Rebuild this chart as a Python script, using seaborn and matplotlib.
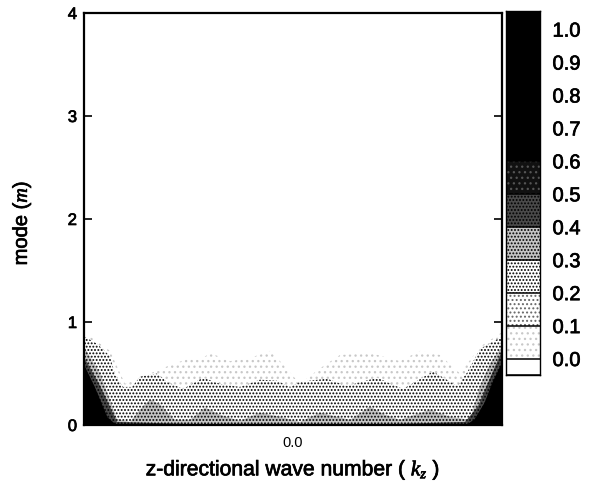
import matplotlib
matplotlib.use("Agg")
import matplotlib.pyplot as plt
import matplotlib.patheffects as pe
import pandas as pd
import seaborn as sns

# Contour outlines: (kz, m) per level
kz_01 = [-1, -.876, -.804, -.589, -.493, -.445, -.397, -.301, -.206, -.11, -.062, .033, .129, .225, .368, .512, .608, .703, .799, .895, 1]
m_01 = [.90, .72, .40, .58, .65, .63, .70, .62, .65, .72, .62, .40, .55, .68, .70, .62, .72, .68, .50, .76, .90]

kz_02 = [-1, -.938, -.876, -.85, -.813, -.77, -.732, -.651, -.603, -.526, -.431, -.349, -.254, -.158, -.077, -.014, .033, .163, .258, .402, .526, .67, .785, .833, .895, 1]
m_02 = [.86, .79, .67, .48, .37, .37, .47, .50, .42, .35, .46, .40, .37, .44, .43, .37, .42, .45, .38, .46, .35, .52, .38, .51, .74, .86]

kz_03 = [-1, -.923, -.842, -.78, -.732, -.684, -.636, -.565, -.493, -.421, -.349, -.254, -.158, -.062, .033, .129, .273, .368, .44, .512, .656, .751, .847, .895, .943, 1]
m_03 = [.76, .50, .06, .03, .15, .25, .20, .05, .05, .17, .10, .04, .12, .08, .03, .12, .05, .18, .10, .05, .15, .08, .05, .38, .60, .76]

kz_04 = [-1, -.923, -.842, -.5, .5, .823, .885, .952, 1]
m_04 = [.66, .38, .03, .01, .01, .03, .18, .50, .72]

kz_05 = [-1, -.952, -.89, -.85, .83, .866, .914, .952, 1]
m_05 = [.58, .38, .08, .01, .01, .06, .22, .42, .62]

# Legend levels and tick labels
cbar_levels = [-.05, 0, .1, .2, .3, .4, .5, .6, 1.055]
cbar_ticks = [0, .1, .2, .3, .4, .5, .6, .7, .8, .9, 1.0]
cbar_labels = ["0.0", "0.1", "0.2", "0.3", "0.4", "0.5", "0.6", "0.7", "0.8", "0.9", "1.0"]

# Style per band, light to dark: face, hatch, hatch colour
faces = ["white", "white", "white", "#c4c4c4", "#4a4a4a", "#111111", "black"]
hatches = ["...", "....", ".....", ".....", ".....", "...", None]
hatch_cols = ["#c8c8c8", "#666666", "black", "black", "black", "#555555", "black"]
cbar_faces = ["white"] + faces
cbar_hatches = [None] + hatches
cbar_cols = ["black"] + hatch_cols

sns.set_theme(style="ticks")
plt.rcParams["font.family"] = ["Liberation Sans", "DejaVu Sans"]
plt.rcParams["mathtext.fontset"] = "custom"
plt.rcParams["mathtext.it"] = "Liberation Serif:italic"
plt.rcParams["hatch.linewidth"] = 0.9
bold = [pe.withStroke(linewidth=0.5, foreground="black")]

fig = plt.figure(figsize=(6.1, 4.85), dpi=100)
W, H = 610, 485
ax = fig.add_axes([84 / W, 1 - 426 / H, 418 / W, 412 / H])
cax = fig.add_axes([506 / W, 1 - 376 / H, 34 / W, 364 / H])

layers = [(kz_01, m_01, 0), (kz_02, m_02, 2), (kz_03, m_03, 3), (kz_04, m_04, 4), (kz_05, m_05, 6)]
for z, (kz, m, style) in enumerate(layers):
    df = pd.DataFrame({"kz": kz, "m": m})
    sns.lineplot(data=df, x="kz", y="m", ax=ax, color="black", linewidth=0, zorder=z + 1, legend=False)
    ax.fill_between(df["kz"], 0, df["m"], facecolor=faces[style], hatch=hatches[style],
                    edgecolor=hatch_cols[style], linewidth=0, zorder=z + 1)

ax.set_xlim(-1, 1)
ax.set_ylim(0, 4)
ax.set_xticks([0])
ax.set_xticklabels(["0.0"], fontsize=10.5, color="#222222")
ax.set_yticks([0, 1, 2, 3, 4])
ax.set_yticklabels(["0", "1", "2", "3", "4"], fontsize=12, color="black", path_effects=bold)
ax.tick_params(axis="both", direction="in", length=6, width=1.2, colors="black", right=True, pad=5)
ax.tick_params(axis="x", pad=7)
ax.set_xlabel(r"z-directional wave number ( $k_z$ )", fontsize=15.2, labelpad=7, color="black", path_effects=bold)
ax.set_ylabel(r"mode ($m$)", fontsize=14.5, labelpad=25, y=0.49, color="black", path_effects=bold)
for s in ax.spines.values():
    s.set_linewidth(1.6)
    s.set_color("black")
    s.set_zorder(20)

for i in range(len(cbar_levels) - 1):
    cax.bar(0, cbar_levels[i + 1] - cbar_levels[i], bottom=cbar_levels[i], width=1,
            facecolor=cbar_faces[i], hatch=cbar_hatches[i], edgecolor=cbar_cols[i], linewidth=0)
    cax.axhline(cbar_levels[i], color="black", linewidth=1.1)
cax.set_xlim(-.5, .5)
cax.set_ylim(cbar_levels[0], cbar_levels[-1])
cax.set_xticks([])
cax.yaxis.tick_right()
cax.set_yticks(cbar_ticks)
cax.set_yticklabels(cbar_labels, fontsize=14.5, color="black", path_effects=bold)
cax.tick_params(axis="y", length=0, pad=9)
for s in cax.spines.values():
    s.set_linewidth(1.0)
    s.set_color("black")

fig.savefig("out.png", dpi=100)
